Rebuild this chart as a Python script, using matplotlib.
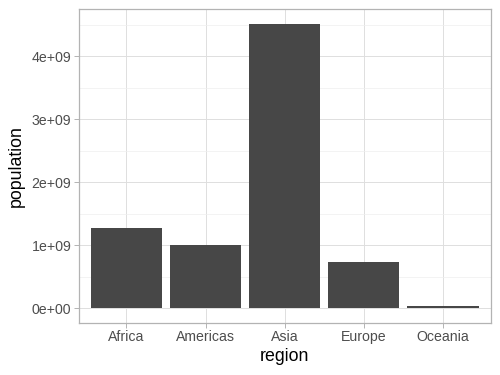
import numpy as np
import matplotlib
matplotlib.use('Agg')
import matplotlib.pyplot as plt
from matplotlib.ticker import FixedLocator

# Population by region
regions = ['Africa', 'Americas', 'Asia', 'Europe', 'Oceania']
population = [1.28e9, 1.01e9, 4.52e9, 0.74e9, 0.035e9]
y_ticks = [0, 1e9, 2e9, 3e9, 4e9]
y_tick_labels = ['0e+00', '1e+09', '2e+09', '3e+09', '4e+09']

plt.rcParams['font.family'] = ['Liberation Sans', 'DejaVu Sans']

fig = plt.figure(figsize=(5, 3.75), dpi=100)
ax = fig.add_axes([0.158, 0.1395, 0.823, 0.8352])

x = np.arange(len(regions))
ax.bar(x, population, width=0.9, color='#474747', zorder=3)

# ggplot-style expansion
ymax = max(population)
ax.set_ylim(-0.05 * ymax, ymax * 1.05)
ax.set_xlim(-0.6, len(regions) - 0.4)

ax.set_xticks(x)
ax.set_xticklabels(regions)
ax.set_yticks(y_ticks)
ax.set_yticklabels(y_tick_labels)
ax.yaxis.set_minor_locator(FixedLocator([0.5e9, 1.5e9, 2.5e9, 3.5e9, 4.5e9]))

ax.grid(which='major', color='#DEDEDE', linewidth=0.7, zorder=0)
ax.grid(which='minor', axis='y', color='#EEEEEE', linewidth=0.5, zorder=0)
ax.set_axisbelow(True)

for s in ax.spines.values():
    s.set_color('#B3B3B3')
    s.set_linewidth(0.9)

ax.tick_params(which='major', length=3.5, width=0.7, color='#B3B3B3',
               labelsize=10.2, labelcolor='#4D4D4D', pad=2)
ax.tick_params(which='minor', length=0)

ax.set_xlabel('region', fontsize=12.8, color='black', labelpad=3)
ax.set_ylabel('population', fontsize=12.8, color='black', labelpad=5)

fig.savefig('out.png', dpi=100)
